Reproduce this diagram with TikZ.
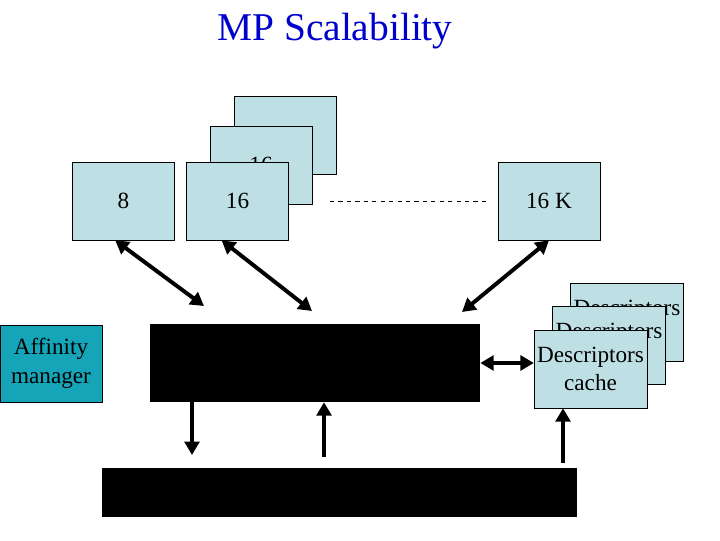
\documentclass[tikz,border=0pt]{standalone}
\usepackage{fontspec}
\setmainfont{Liberation Serif}
\usetikzlibrary{arrows.meta}
\definecolor{cpubox}{RGB}{190,224,228}
\definecolor{affbox}{RGB}{22,165,184}
\definecolor{titleblue}{RGB}{0,0,204}
\begin{document}
\begin{tikzpicture}[x=0.025cm,y=-0.025cm,
		cpu/.style={draw,fill=cpubox,minimum width=2.55cm,minimum height=1.95cm,inner sep=0pt,font=\fontsize{16.5}{19}\selectfont},
		desc/.style={cpu,minimum width=2.82cm,align=center,font=\fontsize{16.5}{19.5}\selectfont},
		blk/.style={fill=black,inner sep=0pt},
		link/.style={line width=2.8pt,{Triangle[length=9.5pt,width=10.5pt]}-{Triangle[length=9.5pt,width=10.5pt]}},
		one/.style={line width=2.8pt,-{Triangle[length=9.5pt,width=10.5pt]}}]
	\useasboundingbox (0,0) rectangle (720,540);
	\node[titleblue,font=\fontsize{28}{32}\selectfont] (title) at (335,31) {MP Scalability};
	% processors
	\node[cpu] (cpu8) at (123.5,201) {8};
	\node[cpu] (cpuc) at (285,135) {16};
	\node[cpu] (cpub) at (261,165) {16};
	\node[cpu] (cpua) at (237.5,201) {16};
	\node[cpu] (cpuk) at (549,201) {16 K};
	\draw[dashed] (cpua.east -| 330,0) -- (cpuk.west -| 487,0);
	% descriptors
	\node[desc] (descc) at (627,322) {Descriptors\\cache};
	\node[desc] (descb) at (609,345) {Descriptors\\cache};
	\node[desc] (desca) at (590.5,369) {Descriptors\\cache};
	\node[draw,fill=affbox,minimum width=2.55cm,minimum height=1.93cm,inner sep=0pt,align=center,font=\fontsize{16.5}{20.5}\selectfont] (aff) at (51,363.5) {Affinity\\manager};
	\node[blk,minimum width=8.25cm,minimum height=1.95cm] (core) at (315,363) {};
	\node[blk,minimum width=11.875cm,minimum height=1.225cm] (base) at (339.5,492.5) {};
	% connections
	\coordinate (p8) at (204,306);
	\coordinate (pa) at (312,311);
	\coordinate (pk) at (462,312);
	\coordinate (dn) at (192,455);
	\coordinate (up) at (324,457);
	\coordinate (ud) at (563,463);
	\draw[link] (cpu8.258) -- (p8);
	\draw[link] (cpua.248) -- (pa);
	\draw[link] (cpuk.south) -- (pk);
	\draw[link] (core.east) -- (core.east -| desca.west);
	\draw[one] (dn |- core.south) -- (dn);
	\draw[one] (up) -- (up |- core.south);
	\draw[one] (ud) -- (ud |- desca.south);
\end{tikzpicture}
\end{document}
